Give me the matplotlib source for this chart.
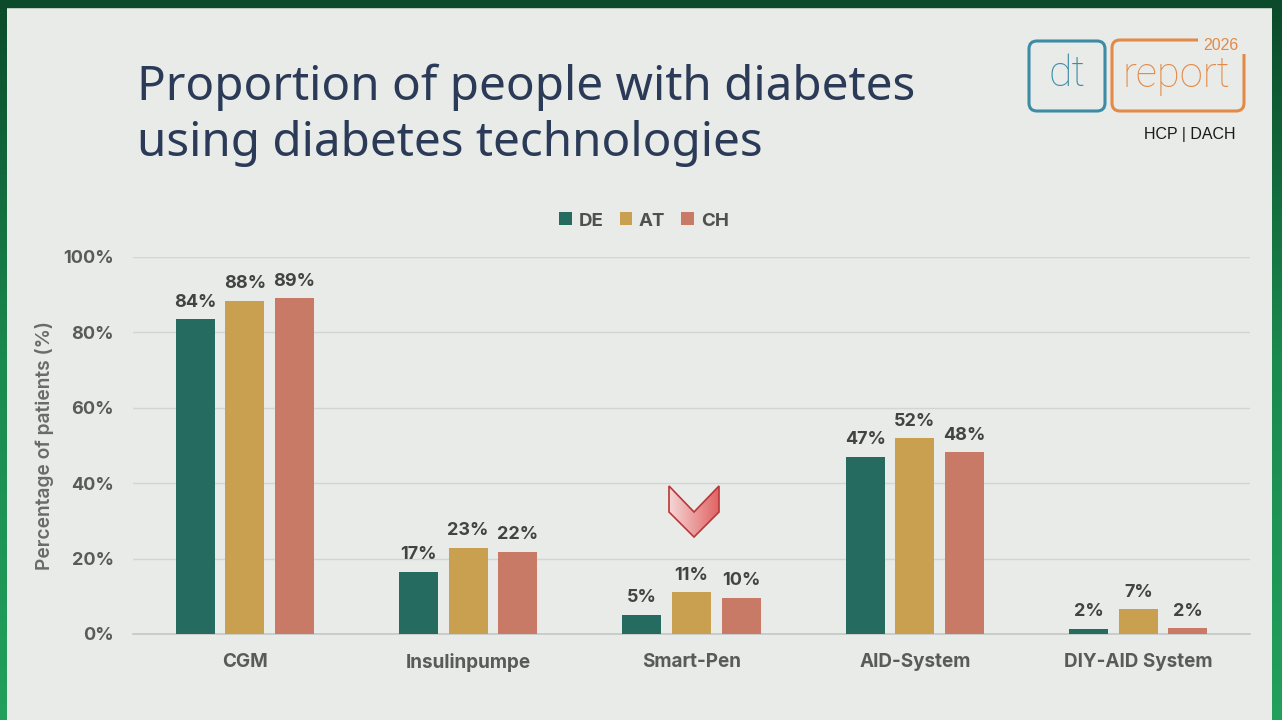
import matplotlib
matplotlib.use("Agg")
import matplotlib.pyplot as plt
import numpy as np
from matplotlib.patches import Polygon, FancyBboxPatch, Rectangle
from matplotlib.colors import LinearSegmentedColormap

# ---------------- data ----------------
categories = ["CGM", "Insulinpumpe", "Smart-Pen", "AID-System", "DIY-AID System"]
series_names = ["DE", "AT", "CH"]
de_values = [83.5, 16.5, 5.1, 47.0, 1.4]
at_values = [88.4, 22.9, 11.1, 52.0, 6.6]
ch_values = [89.0, 21.8, 9.6, 48.2, 1.6]
de_labels = ["84%", "17%", "5%", "47%", "2%"]
at_labels = ["88%", "23%", "11%", "52%", "7%"]
ch_labels = ["89%", "22%", "10%", "48%", "2%"]
y_ticks = [0, 20, 40, 60, 80, 100]
y_tick_labels = ["0%", "20%", "40%", "60%", "80%", "100%"]

colors = ["#266b5f", "#c9a04f", "#c87a67"]
BG = "#e8ebe7"
W, H = 1282, 720
FONT = "Inter"

fig = plt.figure(figsize=(W / 100, H / 100), dpi=100, facecolor=BG)

# ---------------- chart axes ----------------
ax = fig.add_axes([133 / W, (H - 634) / H, (1250 - 133) / W, (634 - 257) / H])
ax.set_facecolor(BG)
x = np.arange(len(categories))
step, width = 0.222, 0.175
all_vals = [de_values, at_values, ch_values]
all_labels = [de_labels, at_labels, ch_labels]
for i, (vals, labs) in enumerate(zip(all_vals, all_labels)):
    bars = ax.bar(x + (i - 1) * step, vals, width, color=colors[i], label=series_names[i], zorder=3)
    for b, lab in zip(bars, labs):
        ax.annotate(lab, (b.get_x() + b.get_width() / 2, b.get_height()),
                    xytext=(0, 6), textcoords="offset points", ha="center", va="bottom",
                    fontsize=13, fontweight="bold", color="#434343", family=FONT)

ax.set_xlim(-0.5, len(categories) - 0.5)
ax.set_ylim(0, 100)
ax.set_yticks(y_ticks)
ax.set_yticklabels(y_tick_labels)
ax.set_xticks(x)
ax.set_xticklabels(categories)
ax.tick_params(axis="y", length=0, pad=14, labelsize=13, labelcolor="#5a5a5a")
ax.tick_params(axis="x", length=0, pad=14, labelsize=13.6, labelcolor="#5a5a5a")
for lab in ax.get_xticklabels() + ax.get_yticklabels():
    lab.set_fontweight("bold")
    lab.set_family(FONT)
ax.grid(axis="y", color="#d2d5d1", lw=1, zorder=0)
for s in ["top", "right", "left"]:
    ax.spines[s].set_visible(False)
ax.spines["bottom"].set_color("#c4c7c3")
ax.spines["bottom"].set_linewidth(1.2)

leg = fig.legend(loc="center", bbox_to_anchor=(644 / W, 1 - 221 / H), ncol=3, frameon=False,
                 handlelength=0.68, handleheight=0.68, handletextpad=0.35, columnspacing=0.85,
                 prop={"family": FONT, "weight": "bold", "size": 13.5})
for t in leg.get_texts():
    t.set_color("#505050")

fig.text(45 / W, 1 - 446 / H, "Percentage of patients (%)", rotation=90, ha="center", va="center",
         fontsize=13.8, color="#6a6a6a", family=FONT, fontweight="semibold")

# ---------------- title ----------------
fig.text(137 / W, 1 - 100 / H, "Proportion of people with diabetes", ha="left", va="baseline",
         fontsize=34.3, color="#2a3a57", family="Noto Sans")
fig.text(137 / W, 1 - 156 / H, "using diabetes technologies", ha="left", va="baseline",
         fontsize=34.3, color="#2a3a57", family="Noto Sans")

# ---------------- overlay (decorations in pixel coords) ----------------
ov = fig.add_axes([0, 0, 1, 1], facecolor="none")
ov.set_xlim(0, W)
ov.set_ylim(H, 0)
ov.axis("off")

# green frame
green = LinearSegmentedColormap.from_list("g", ["#0b4a2a", "#1a8a4e", "#22a05c"])
grad = np.linspace(0, 1, 256).reshape(-1, 1)
ov.imshow(grad, cmap=green, extent=(0, 7, H, 0), aspect="auto", zorder=5)
ov.imshow(grad, cmap=green, extent=(1272, W, H, 0), aspect="auto", zorder=5)
ov.add_patch(Rectangle((0, 0), W, 7, color="#0b4a2a", zorder=6))

# chevron
chev = [(669, 486), (694, 512), (719, 486), (719, 512), (694, 537), (669, 512)]
poly = Polygon(chev, closed=True, facecolor="none", edgecolor="#b8373a", lw=1.2, zorder=8)
ov.add_patch(poly)
red = LinearSegmentedColormap.from_list("r", ["#f6d6d6", "#e06464"])
im = ov.imshow(np.linspace(0, 1, 256).reshape(1, -1), cmap=red, extent=(669, 719, 537, 486),
               aspect="auto", zorder=7)
im.set_clip_path(Polygon(chev, closed=True, transform=ov.transData))
ov.set_xlim(0, W)
ov.set_ylim(H, 0)

# logo
teal, orange = "#3d8ba4", "#e38a48"
ov.add_patch(FancyBboxPatch((1029, 41), 76, 70, boxstyle="round,pad=0,rounding_size=8",
                            facecolor="none", edgecolor=teal, lw=2.2, zorder=8))
ov.text(1067, 74, "dt", color=teal, fontsize=31, ha="center", va="center", family="Roboto",
        fontweight="light", zorder=9)
ov.add_patch(FancyBboxPatch((1112, 40), 132, 71, boxstyle="round,pad=0,rounding_size=8",
                            facecolor="none", edgecolor=orange, lw=2.2, zorder=8))
ov.add_patch(Rectangle((1198, 34), 52, 20, facecolor=BG, edgecolor="none", zorder=8.5))
ov.text(1221, 45, "2026", color=orange, fontsize=11.5, ha="center", va="center",
        family="Liberation Sans", zorder=9)
ov.text(1176, 76, "report", color=orange, fontsize=30, ha="center", va="center", family="Roboto",
        fontweight="light", zorder=9)
ov.text(1190, 135, "HCP | DACH", color="#1a1a1a", fontsize=11.5, ha="center", va="center",
        family="Liberation Sans", zorder=9)

fig.savefig("out.png", dpi=100, facecolor=BG)
